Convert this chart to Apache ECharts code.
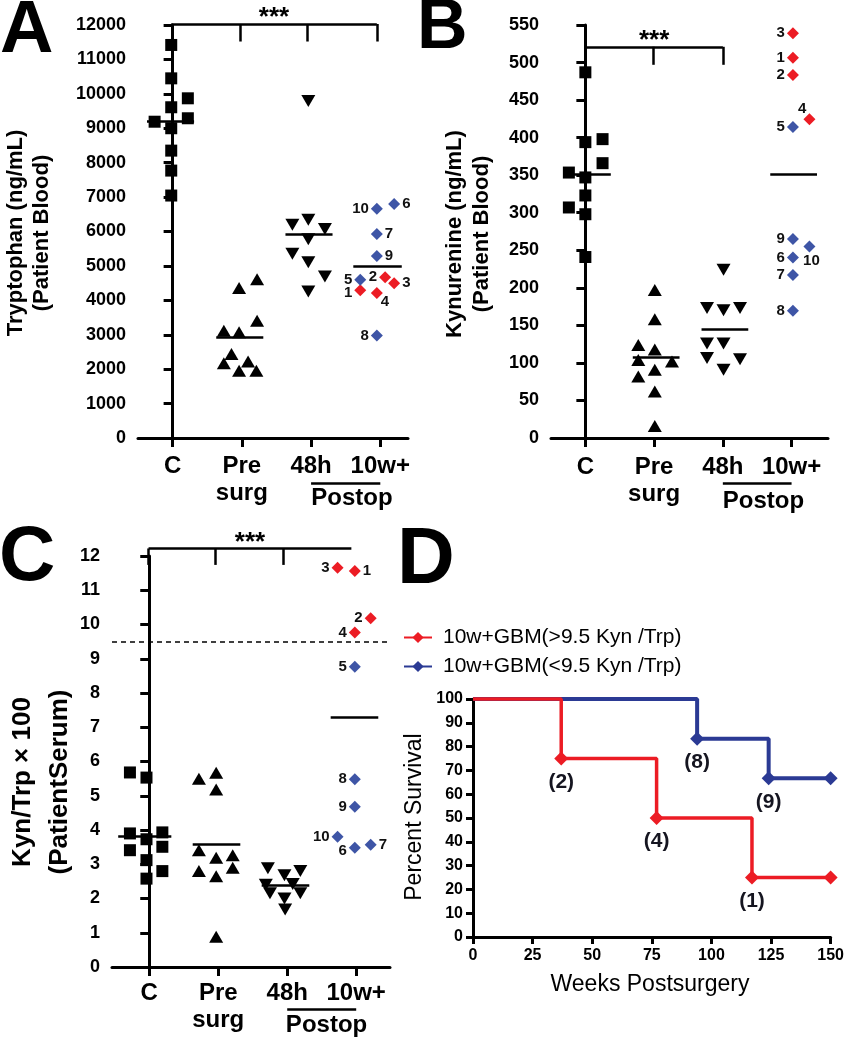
<!DOCTYPE html>
<html><head><meta charset="utf-8">
<script src="https://cdn.jsdelivr.net/npm/echarts@6/dist/echarts.min.js"></script>
<style>html,body{margin:0;padding:0;background:#fff}#c{width:847px;height:1050px}</style>
</head><body><div id="c"></div>
<script>
// ---------- categories / labels ----------
const catLabels = ['C', 'Pre\nsurg', '48h', '10w+'];
const postopLabel = 'Postop';
const patientIds = [1, 2, 3, 4, 5, 6, 7, 8, 9, 10];
const highRatioIds = [1, 2, 3, 4]; // Kyn/Trp > 9.5 (red)

// ---------- Panel A: Tryptophan (ng/mL) ----------
const trpCtrl = [11420, 10450, 9870, 9610, 9290, 9190, 9000, 8350, 7770, 7045];
const trpCtrlJit = [-0.02, -0.02, 0.22, -0.02, 0.22, -0.26, -0.02, -0.02, -0.02, -0.02];
const trpPre = [4615, 4355, 3405, 3115, 3070, 2440, 2175, 2225, 1955, 1955];
const trpPreJit = [0.22, -0.04, 0.22, -0.26, -0.04, -0.15, -0.26, 0.09, -0.04, 0.21];
const trp48 = [9795, 6195, 6340, 6070, 5775, 5350, 5110, 4695, 4260];
const trp48Jit = [-0.04, -0.27, -0.04, 0.2, -0.04, -0.27, -0.04, 0.2, -0.04];
const trpPost = [4290, 4670, 4500, 4210, 4600, 6800, 5930, 2980, 5290, 6660];
const trpPostJit = [-0.29, 0.07, 0.2, -0.05, -0.29, 0.2, -0.05, -0.05, -0.05, -0.05];
const trpMedian = [9190, 2930, 5920, 5000];
const trpTicks = {max: 12000, interval: 1000};

// ---------- Panel B: Kynurenine (ng/mL) ----------
const kynCtrl = [487, 394, 398, 366, 353.5, 347, 323, 307, 298, 241];
const kynCtrlJit = [0, 0, 0.25, 0.25, -0.24, 0, 0, -0.24, 0, 0];
const kynPre = [197, 158, 124, 118, 104, 102, 91, 82, 62, 16];
const kynPreJit = [0.01, 0.01, -0.23, 0.01, -0.23, 0.26, 0.01, -0.23, 0.01, 0.01];
const kyn48 = [224, 173, 170, 173, 126, 126, 106.5, 105, 91];
const kyn48Jit = [0.01, -0.23, 0.01, 0.25, -0.23, 0.01, -0.23, 0.25, 0.01];
const kynPost = [506.5, 483.5, 539, 424.5, 414, 240.5, 217, 169.5, 265, 255];
const kynPostJit = [0.02, 0.02, 0.02, 0.26, 0.02, 0.02, 0.02, 0.02, 0.02, 0.26];
const kynMedian = [351.7, 107.3, 144.2, 351.7];
const kynTicks = {max: 550, interval: 50};

// ---------- Panel C: Kyn/Trp x 100 ----------
const ratioCtrl = [5.68, 5.53, 3.90, 3.93, 3.73, 3.41, 3.51, 3.12, 2.80, 2.58];
const ratioCtrlJit = [-0.28, -0.04, -0.28, 0.19, -0.04, -0.28, 0.19, -0.04, 0.19, -0.04];
const ratioPre = [5.67, 5.50, 5.18, 3.41, 3.19, 3.26, 2.80, 2.65, 2.90, 0.88];
const ratioPreJit = [-0.03, -0.28, -0.03, -0.28, -0.03, 0.21, -0.28, -0.03, 0.21, -0.03];
const ratio48 = [2.88, 2.68, 2.8, 2.4, 2.42, 2.15, 2.0, 2.15, 1.68];
const ratio48Jit = [-0.28, -0.04, 0.19, -0.31, 0.08, -0.25, -0.04, 0.19, -0.03];
const ratioPost = [11.56, 10.18, 11.66, 9.77, 8.77, 3.48, 3.57, 5.48, 4.68, 3.80];
const ratioPostJit = [-0.02, 0.21, -0.27, -0.02, -0.02, -0.02, 0.21, -0.02, -0.02, -0.27];
const ratioMedian = [3.82, 3.57, 2.39, 7.30];
const ratioCutoff = 9.5;
const ratioTicks = {max: 12, interval: 1};

// ---------- Panel D: survival ----------
const survHighName = '10w+GBM(>9.5 Kyn /Trp)';
const survLowName = '10w+GBM(<9.5 Kyn /Trp)';
const survHighWeeks = [0, 37, 77, 117, 150];
const survHighPct = [100, 75, 50, 25, 25];
const survHighIds = ['', '(2)', '(4)', '(1)', ''];
const survLowWeeks = [0, 94, 124, 150];
const survLowPct = [100, 83.33, 66.67, 66.67];
const survLowIds = ['', '(8)', '(9)', ''];

// ---------- styles ----------
const FF = '"Liberation Sans", Arial, Helvetica, sans-serif';
const RED = '#ec1c24', BLUE = '#3e55a6', BLUE_D = '#2b3a94';

// label placement for the numbered diamonds (per panel)
const labelPlaceA = ['left1', 'left', 'right', 'br', 'left', 'right', 'right', 'left', 'right', 'left'];
const labelPlaceB = ['left', 'left', 'left', 'tl', 'left', 'left', 'left', 'left', 'left', 'below'];
const labelPlaceC = ['right', 'left', 'left', 'left', 'left', 'left3', 'right', 'left', 'left', 'left'];

function place(p) {
  const base = {show: true, fontFamily: FF, fontWeight: 'bold', fontSize: 15, color: '#111', distance: 2, opacity: 1};
  if (p === 'left') return Object.assign(base, {position: 'left'});
  if (p === 'left1') return Object.assign(base, {position: 'left', offset: [0, 3]});
  if (p === 'left3') return Object.assign(base, {position: 'left', offset: [0, 3]});
  if (p === 'right') return Object.assign(base, {position: 'right'});
  if (p === 'br') return Object.assign(base, {position: 'right', offset: [-4, 9]});
  if (p === 'tl') return Object.assign(base, {position: 'left', offset: [5, -10]});
  if (p === 'below') return Object.assign(base, {position: 'bottom', distance: 0, offset: [2, 1]});
  return base;
}

function grp(gi, center, vals, jit, symbol, size, rot) {
  return {type: 'scatter', xAxisIndex: gi, yAxisIndex: gi, symbol: symbol, symbolSize: size,
    symbolRotate: rot || 0, itemStyle: {color: '#000', opacity: 1}, silent: true, z: 3,
    data: vals.map((v, i) => [center + jit[i], v])};
}
function post(gi, vals, jit, places) {
  return {type: 'scatter', xAxisIndex: gi, yAxisIndex: gi, symbol: 'diamond', symbolSize: 12, silent: true, z: 4,
    itemStyle: {opacity: 1},
    data: vals.map((v, i) => ({value: [3 + jit[i], v],
      itemStyle: {color: highRatioIds.includes(patientIds[i]) ? RED : BLUE, opacity: 1},
      label: Object.assign(place(places[i]), {formatter: String(patientIds[i])})}))};
}
function medians(gi, meds, spans) {
  return {type: 'lines', coordinateSystem: 'cartesian2d', xAxisIndex: gi, yAxisIndex: gi, silent: true, z: 2,
    lineStyle: {color: '#000', width: 2.5, opacity: 1},
    data: meds.map((m, i) => ({coords: [[i + spans[i][0], m], [i + spans[i][1], m]]}))};
}
function bracket(gi, xs, top, bottom, tickIdx, starDist) {
  const d = [{coords: [[xs[0], top], [xs[xs.length - 1], top]],
    label: {show: true, position: 'middle', formatter: '***', distance: starDist, fontFamily: FF, fontWeight: 'bold', fontSize: 26, color: '#000'}}];
  tickIdx.forEach(k => d.push({coords: [[xs[k], top], [xs[k], bottom]]}));
  return {type: 'lines', coordinateSystem: 'cartesian2d', xAxisIndex: gi, yAxisIndex: gi, silent: true, clip: false,
    lineStyle: {color: '#000', width: 2.5, opacity: 1}, data: d};
}
function postop(gi, yLine, yText, xText) {
  return [
    {type: 'lines', coordinateSystem: 'cartesian2d', xAxisIndex: gi, yAxisIndex: gi, silent: true, clip: false,
      lineStyle: {color: '#000', width: 2.5, opacity: 1}, data: [{coords: [[2, yLine], [3, yLine]]}]},
    {type: 'scatter', xAxisIndex: gi, yAxisIndex: gi, silent: true, clip: false, symbolSize: 0,
      itemStyle: {opacity: 1},
      data: [[xText, yText]],
      label: {show: true, position: 'inside', formatter: postopLabel, fontFamily: FF, fontWeight: 'bold', fontSize: 24, color: '#000', opacity: 1}}
  ];
}
function catX(gi, min, max, margin) {
  return {type: 'value', gridIndex: gi, min: min, max: max, splitLine: {show: false},
    axisLine: {show: true, onZero: false, lineStyle: {color: '#000', width: 3}},
    axisTick: {show: true, customValues: [0, 1, 2, 3], length: 9, lineStyle: {color: '#000', width: 3}},
    axisLabel: {show: true, customValues: [0, 1, 2, 3], margin: margin,
      formatter: v => (Number.isInteger(v) ? catLabels[v] : ''),
      fontFamily: FF, fontWeight: 'bold', fontSize: 24, lineHeight: 27, color: '#000'}};
}
function valY(gi, t, fs) {
  return {type: 'value', gridIndex: gi, min: 0, max: t.max, interval: t.interval, splitLine: {show: false},
    axisLine: {show: true, lineStyle: {color: '#000', width: 3}},
    axisTick: {show: true, length: 9, lineStyle: {color: '#000', width: 3}},
    axisLabel: {margin: 12, fontFamily: FF, fontWeight: 'bold', fontSize: fs, color: '#000', formatter: v => String(v)}};
}
function txt(x, y, text, size, weight, rot, lh, align) {
  return {type: 'text', x: x, y: y, rotation: rot || 0, silent: true,
    style: {text: text, fontFamily: FF, fontSize: size, fontWeight: weight, fill: '#000',
      align: align || 'center', verticalAlign: 'middle', lineHeight: lh || size}};
}

const spanA = [[-0.37, 0.31], [-0.37, 0.31], [-0.37, 0.31], [-0.39, 0.31]];
const spanB = [[-0.31, 0.37], [-0.31, 0.37], [-0.31, 0.37], [-0.31, 0.37]];
const spanC = [[-0.45, 0.32], [-0.37, 0.32], [-0.37, 0.32], [-0.37, 0.32]];

const chart = echarts.init(document.getElementById('c'), null, {width: 847, height: 1050});

const series = [
  // A
  grp(0, 0, trpCtrl, trpCtrlJit, 'rect', 12),
  grp(0, 1, trpPre, trpPreJit, 'triangle', [14, 12]),
  grp(0, 2, trp48, trp48Jit, 'triangle', [14, 12], 180),
  post(0, trpPost, trpPostJit, labelPlaceA),
  medians(0, trpMedian, spanA),
  bracket(0, [-0.02, 0.97, 1.95, 2.95], 12030, 11520, [1, 2, 3], -7),
  ...postop(0, -1307, -1758, 2.59),
  // B
  grp(1, 0, kynCtrl, kynCtrlJit, 'rect', 12),
  grp(1, 1, kynPre, kynPreJit, 'triangle', [14, 12]),
  grp(1, 2, kyn48, kyn48Jit, 'triangle', [14, 12], 180),
  post(1, kynPost, kynPostJit, labelPlaceB),
  medians(1, kynMedian, spanB),
  bracket(1, [0, 0.99, 2.0], 521, 497, [1, 2], -7),
  ...postop(1, -60.3, -84.8, 2.59),
  // C
  grp(2, 0, ratioCtrl, ratioCtrlJit, 'rect', 12),
  grp(2, 1, ratioPre, ratioPreJit, 'triangle', [14, 12]),
  grp(2, 2, ratio48, ratio48Jit, 'triangle', [14, 12], 180),
  Object.assign(post(2, ratioPost, ratioPostJit, labelPlaceC), {
    markLine: {silent: true, symbol: 'none', label: {show: false},
      lineStyle: {color: '#000', width: 1.5, type: [5, 4], opacity: 1}, data: [{yAxis: ratioCutoff}]}}),
  medians(2, ratioMedian, spanC),
  bracket(2, [-0.01, 0.95, 1.94, 2.93], 12.22, 11.74, [0, 1, 2], -7),
  ...postop(2, -1.24, -1.70, 2.57),
  // D
  {type: 'line', name: survLowName, xAxisIndex: 3, yAxisIndex: 3, step: 'end', clip: false,
    symbol: 'diamond', symbolSize: 14, showAllSymbol: true, color: BLUE_D, lineStyle: {width: 4}, z: 3,
    data: survLowWeeks.map((w, i) => ({value: [w, survLowPct[i]], symbol: i === 0 ? 'none' : 'diamond',
      label: {show: survLowIds[i] !== '', formatter: survLowIds[i]}})),
    label: {position: 'bottom', distance: 6, fontFamily: FF, fontWeight: 'bold', fontSize: 21, color: '#151520'}},
  {type: 'line', name: survHighName, xAxisIndex: 3, yAxisIndex: 3, step: 'end', clip: false,
    symbol: 'diamond', symbolSize: 14, showAllSymbol: true, color: RED, lineStyle: {width: 3.5}, z: 4,
    data: survHighWeeks.map((w, i) => ({value: [w, survHighPct[i]], symbol: i === 0 ? 'none' : 'diamond',
      label: {show: survHighIds[i] !== '', formatter: survHighIds[i]}})),
    label: {position: 'bottom', distance: 6, fontFamily: FF, fontWeight: 'bold', fontSize: 21, color: '#151520'}}
];

const option = {
  animation: false,
  backgroundColor: '#fff',
  grid: [
    {left: 138, top: 25, width: 270, height: 413},
    {left: 551, top: 25, width: 277, height: 413},
    {left: 112, top: 556, width: 278, height: 411},
    {left: 473, top: 699, width: 362, height: 238}
  ],
  xAxis: [
    catX(0, -0.5, 3.4, 15),
    catX(1, -0.5, 3.53, 16),
    catX(2, -0.54, 3.49, 13),
    {type: 'value', gridIndex: 3, min: 0, max: 150, interval: 25, splitLine: {show: false},
      axisLine: {show: true, onZero: false, lineStyle: {color: '#000', width: 3}},
      axisTick: {show: true, length: 7, lineStyle: {color: '#000', width: 3}},
      axisLabel: {margin: 11, fontFamily: FF, fontWeight: 'bold', fontSize: 16, color: '#000'}}
  ],
  yAxis: [
    valY(0, trpTicks, 18),
    valY(1, kynTicks, 18),
    valY(2, ratioTicks, 18),
    {type: 'value', gridIndex: 3, min: 0, max: 100, interval: 10, splitLine: {show: false},
      axisLine: {show: true, lineStyle: {color: '#000', width: 3}},
      axisTick: {show: true, length: 7, lineStyle: {color: '#000', width: 3}},
      axisLabel: {margin: 10, fontFamily: FF, fontWeight: 'bold', fontSize: 16, color: '#000'}}
  ],
  legend: {data: [survHighName, survLowName], orient: 'vertical', left: 403, top: 627, padding: 0,
    itemWidth: 28, itemHeight: 14, itemGap: 8, selectedMode: false,
    textStyle: {fontFamily: FF, fontSize: 21, color: '#000', padding: [0, 0, 0, 6]}},
  graphic: [
    txt(0, 31.7, 'A', 74, 'bold', 0, 74, 'left'),
    txt(417, 29, 'B', 70, 'bold', 0, 70, 'left'),
    txt(-1, 558, 'C', 78, 'bold', 0, 78, 'left'),
    txt(397, 561, 'D', 80, 'bold', 0, 80, 'left'),
    txt(29, 233, 'Tryptophan (ng/mL)\n(Patient Blood)', 22, 'bold', Math.PI / 2, 26),
    txt(468.5, 234, 'Kynurenine (ng/mL)\n(Patient Blood)', 22, 'bold', Math.PI / 2, 27),
    txt(41, 782, 'Kyn/Trp × 100\n(PatientSerum)', 26, 'bold', Math.PI / 2, 37),
    txt(415, 817, 'Percent Survival', 23, 'normal', Math.PI / 2, 23),
    txt(650, 985, 'Weeks Postsurgery', 23, 'normal', 0, 23)
  ],
  series: series
};
chart.setOption(option);
</script>
</body></html>
